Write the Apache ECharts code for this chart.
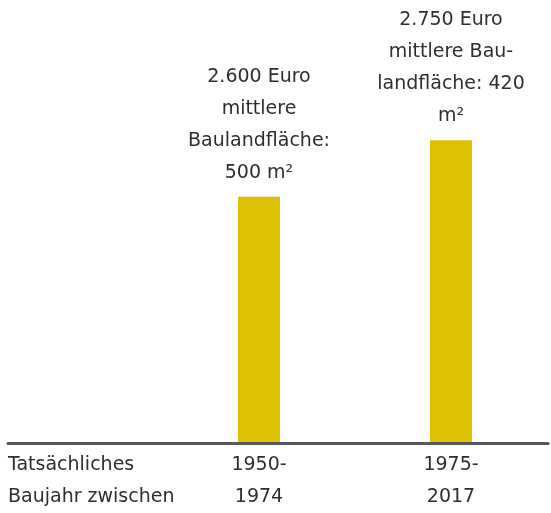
<!DOCTYPE html>
<html>
<head>
<meta charset="utf-8">
<script src="https://cdn.jsdelivr.net/npm/echarts@6/dist/echarts.min.js"></script>
<style>
html, body { margin: 0; padding: 0; background: #fff; }
#main { width: 551px; height: 513px; }
</style>
</head>
<body>
<div id="main"></div>
<script>
// Daten
var categories = ['1950-\n1974', '1975-\n2017'];
var values = [2600, 2750];
var barLabels = [
    '2.600 Euro\nmittlere\nBaulandfläche:\n500 m²',
    '2.750 Euro\nmittlere Bau-\nlandfläche: 420\nm²'
];
var axisTitle = 'Tatsächliches\nBaujahr zwischen';

var textColor = '#2e2e2e';
var font = 'DejaVu Sans';

var myChart = echarts.init(document.getElementById('main'));
var option = {
    animation: false,
    backgroundColor: '#ffffff',
    grid: [
        { left: 163, right: 4, top: 45.8, bottom: 65 },
        { left: 8, right: 0, top: 45.8, bottom: 63.5 }
    ],
    xAxis: [
        {
            type: 'category',
            gridIndex: 0,
            data: categories,
            axisLine: { show: false },
            axisTick: { show: false },
            axisLabel: {
                color: textColor, fontFamily: font, fontSize: 19,
                lineHeight: 32, margin: 7
            }
        },
        {
            type: 'value',
            gridIndex: 1,
            min: 0, max: 1, interval: 1,
            axisLine: { show: true, lineStyle: { color: '#55575b', width: 3 } },
            axisTick: { show: false },
            splitLine: { show: false },
            axisLabel: {
                showMinLabel: true,
                align: 'left',
                color: textColor, fontFamily: font, fontSize: 19,
                lineHeight: 32, margin: 5.5,
                formatter: function (v) { return v === 0 ? axisTitle : ''; }
            }
        }
    ],
    yAxis: [
        { type: 'value', gridIndex: 0, min: 1950, max: 3000, show: false },
        { type: 'value', gridIndex: 1, min: 0, max: 1, show: false }
    ],
    series: [{
        type: 'bar',
        xAxisIndex: 0,
        yAxisIndex: 0,
        data: values,
        barWidth: 42,
        itemStyle: { color: '#dbc102' },
        label: {
            show: true,
            position: 'top',
            distance: 8,
            color: textColor, fontFamily: font, fontSize: 19, lineHeight: 32,
            align: 'center',
            formatter: function (p) { return barLabels[p.dataIndex]; }
        }
    }]
};
myChart.setOption(option);
</script>
</body>
</html>
